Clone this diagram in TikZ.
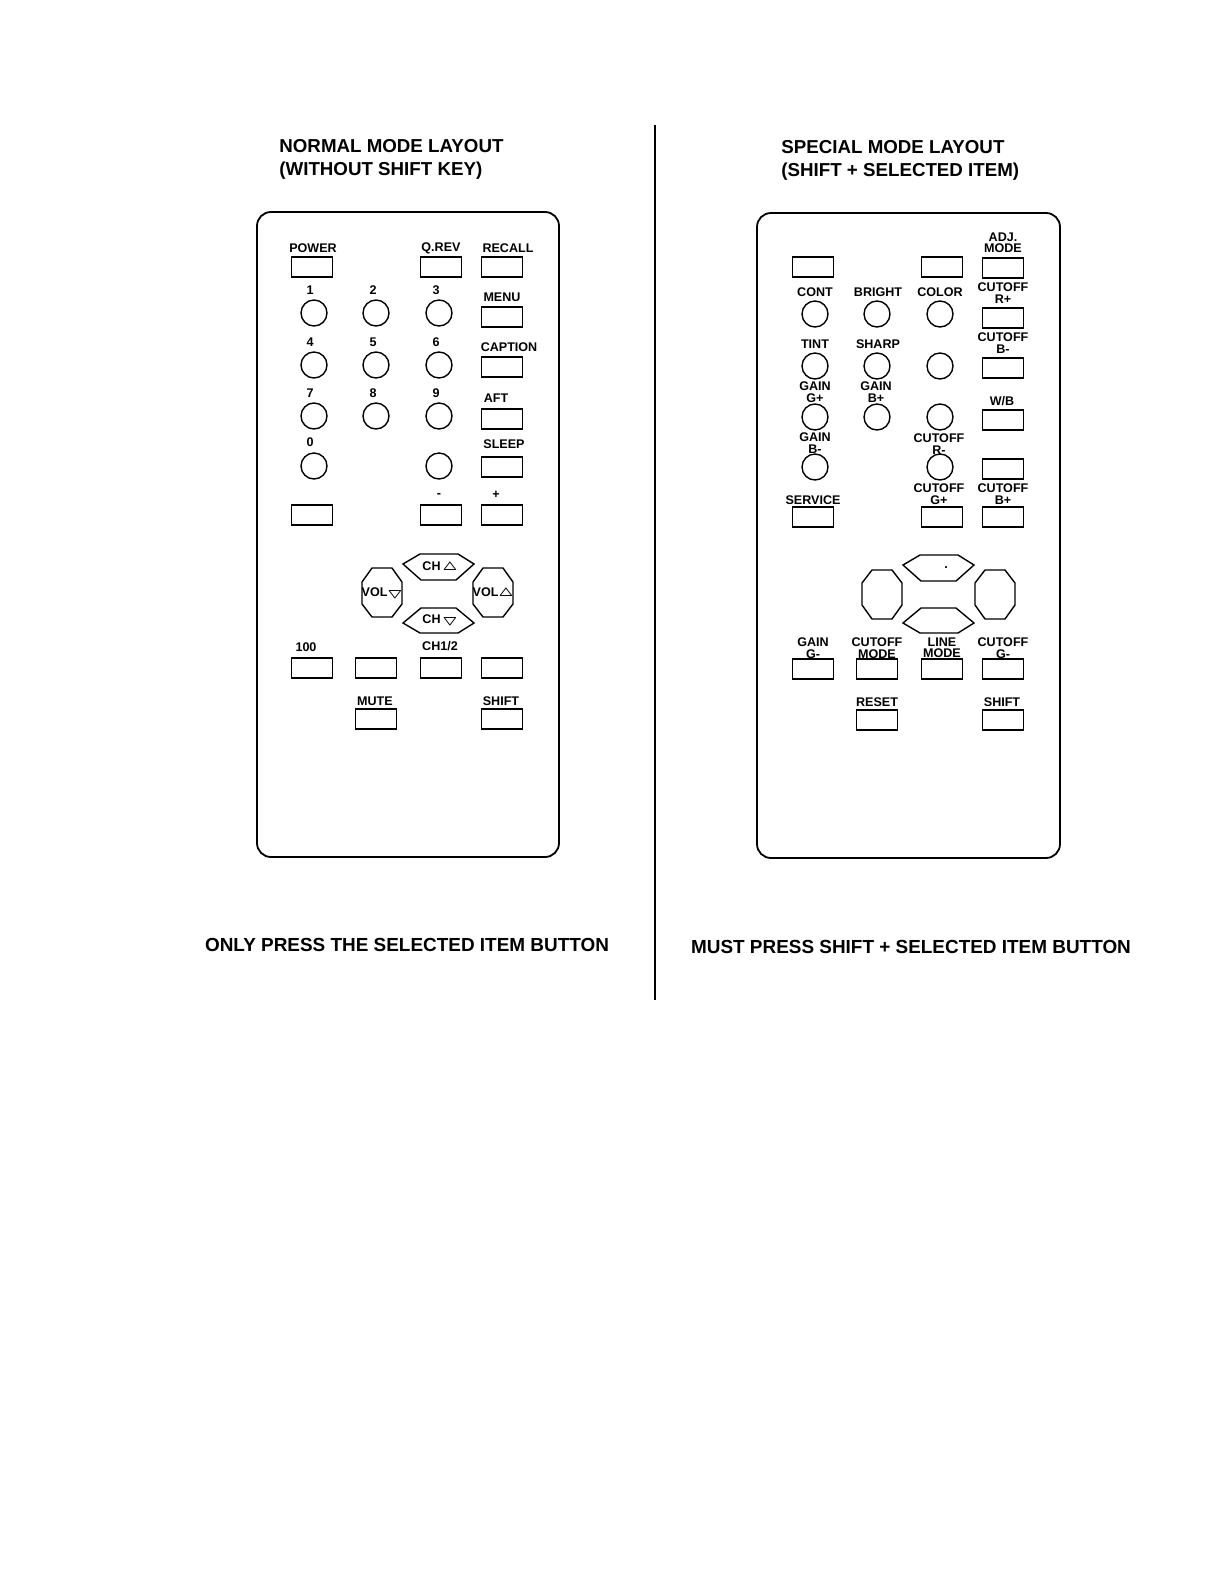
\documentclass[tikz,border=0pt]{standalone}
\usepackage{amsmath}
\usepackage{amssymb}
\usepackage{fontspec}
\setmainfont{Liberation Sans}
\usetikzlibrary{positioning}

\begin{document}
\begin{tikzpicture}[x=0.5bp,y=-0.5bp]
  \tikzset{key/.style = {draw,line width=0.7pt,minimum width=20.5bp,minimum height=10bp,inner sep=0pt}}
  \tikzset{knob/.style = {draw,circle,line width=0.7pt,minimum size=13bp,inner sep=0pt}}
  \tikzset{lbl/.style = {font=\bfseries\fontsize{6.3}{5.7}\selectfont,align=center,inner sep=0pt}}
  \tikzset{title/.style = {font=\bfseries\fontsize{9.4}{11.5}\selectfont,align=left,anchor=north west,inner sep=0pt}}
  \tikzset{case/.style = {draw,line width=0.9pt,rounded corners=7pt}}
  \tikzset{pad/.style = {draw,line width=0.7pt}}

  \useasboundingbox (0,0) rectangle (1224,1584);

  % divider
  \draw[line width=1.1pt] (655,125) -- (655,1000);

  % titles
  \node[title] (TL) at (279,139) {NORMAL MODE LAYOUT\\(WITHOUT SHIFT KEY)};
  \node[title] (TR) at (781,140) {SPECIAL MODE LAYOUT\\(SHIFT + SELECTED ITEM)};
  \node[font=\bfseries\fontsize{9.5}{11}\selectfont,inner sep=0pt] (BL) at (407,945) {ONLY PRESS THE SELECTED ITEM BUTTON};
  \node[font=\bfseries\fontsize{9.5}{11}\selectfont,inner sep=0pt] (BR) at (911,947) {MUST PRESS SHIFT + SELECTED ITEM BUTTON};

  % cases
  \draw[case] (257,212) rectangle (559,857);
  \draw[case] (757,213) rectangle (1060,858);

  % ---- normal mode ----
  \foreach \x/\y/\n in {312/267/pw, 441/267/qr, 502/267/rc, 502/317/mn, 502/367/cp,
      502/419/af, 502/467/sl, 312/515/ba, 441/515/mi, 502/515/pl,
      312/668/hu, 376/668/bb, 441/668/ch, 502/668/bc, 376/719/mu, 502/719/sh}
    \node[key] (L\n) at (\x,\y) {};
  \foreach \x/\y/\n in {314/313/a1, 376/313/a2, 439/313/a3, 314/365/a4, 376/365/a5,
      439/365/a6, 314/416/a7, 376/416/a8, 439/416/a9, 314/466/a0, 439/466/ab}
    \node[knob] (L\n) at (\x,\y) {};
  \foreach \x/\y/\t in {313/248/POWER, 441/248/Q.REV, 508/248/RECALL, 502/297/MENU,
      509/347/CAPTION, 496/398/AFT, 504/444/SLEEP, 439/495/-, 496/495/+,
      310/290/1, 373/290/2, 436/290/3, 310/342/4, 373/342/5, 436/342/6,
      310/393/7, 373/393/8, 436/393/9, 310/442/0,
      306/647/100, 440/646/{CH1/2}, 375/701/MUTE, 501/701/SHIFT}
    \node[lbl] at (\x,\y) {\t};

  % ---- normal mode pad ----
  \draw[pad] (403,564) -- (420,554) -- (458,554) -- (474,564) -- (456,580) -- (421,580) -- cycle;
  \node[lbl] (Lcu) at (440,567) {CH\,$\boldsymbol{\triangle}$};
  \draw[pad] (403,623) -- (421,608) -- (456,608) -- (474,623) -- (458,633) -- (420,633) -- cycle;
  \node[lbl] (Lcd) at (440,620) {CH\,$\boldsymbol{\bigtriangledown}$};
  \draw[pad] (372,568) -- (392,568) -- (402,582) -- (402,604) -- (392,617) -- (372,617) -- (362,604) -- (362,582) -- cycle;
  \node[lbl] (Lvd) at (382,593) {VOL$\boldsymbol{\bigtriangledown}$};
  \draw[pad] (483,568) -- (503,568) -- (513,582) -- (513,604) -- (503,617) -- (483,617) -- (473,604) -- (473,582) -- cycle;
  \node[lbl] (Lvu) at (493,593) {VOL$\boldsymbol{\triangle}$};

  % ---- special mode ----
  \foreach \x/\y/\n in {813/267/k1, 942/267/k2, 1003/268/am, 1003/318/rp, 1003/368/bm,
      1003/420/wb, 1003/469/k3, 813/517/sv, 942/517/gp, 1003/517/bp,
      813/669/gm, 877/669/cm, 942/669/lm, 1003/669/cg, 877/720/rs, 1003/720/sh}
    \node[key] (R\n) at (\x,\y) {};
  \foreach \x/\y/\n in {815/314/co, 877/314/br, 940/314/cl, 815/366/ti, 877/366/sp,
      940/366/c1, 815/417/gg, 877/417/gb, 940/417/c2, 815/467/bm, 940/467/cr}
    \node[knob] (R\n) at (\x,\y) {};
  \foreach \x/\y/\t in {1003/243/ADJ.\\MODE, 815/292/CONT, 878/292/BRIGHT, 940/292/COLOR,
      1003/293/CUTOFF\\R+, 815/344/TINT, 878/344/SHARP, 1003/343/CUTOFF\\B-,
      815/392/GAIN\\G+, 876/392/GAIN\\B+, 1002/401/{W/B}, 815/443/GAIN\\B-,
      939/444/CUTOFF\\R-, 813/500/SERVICE, 939/494/CUTOFF\\G+, 1003/494/CUTOFF\\B+,
      813/648/GAIN\\G-, 877/648/CUTOFF\\MODE, 942/648/LINE\\MODE, 1003/648/CUTOFF\\G-,
      877/702/RESET, 1002/702/SHIFT}
    \node[lbl] at (\x,\y) {\t};

  % ---- special mode pad ----
  \draw[pad] (903,565) -- (920,555) -- (958,555) -- (974,565) -- (956,581) -- (921,581) -- cycle;
  \node[lbl] (Rcu) at (946,568) {.};
  \draw[pad] (903,623) -- (921,608) -- (956,608) -- (974,623) -- (958,633) -- (920,633) -- cycle;
  \draw[pad] (872,570) -- (892,570) -- (902,583) -- (902,605) -- (892,619) -- (872,619) -- (862,605) -- (862,583) -- cycle;
  \draw[pad] (985,570) -- (1005,570) -- (1015,583) -- (1015,605) -- (1005,619) -- (985,619) -- (975,605) -- (975,583) -- cycle;
\end{tikzpicture}
\end{document}
